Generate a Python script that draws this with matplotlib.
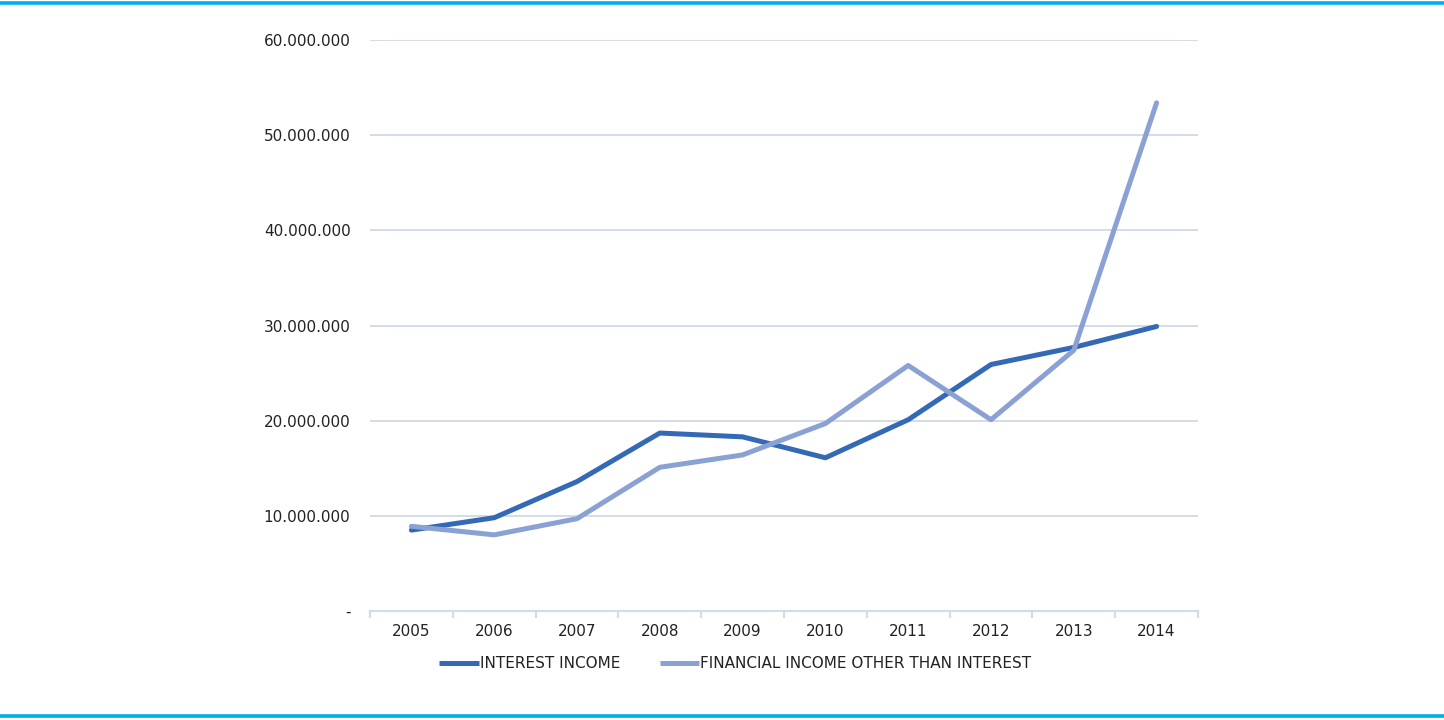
import matplotlib
matplotlib.use("Agg")
import matplotlib.pyplot as plt
from matplotlib.lines import Line2D

plt.rcParams["font.family"] = ["DejaVu Sans"]

years = ["2005", "2006", "2007", "2008", "2009", "2010", "2011", "2012", "2013", "2014"]
interest_income = [8.5e6, 9.8e6, 13.6e6, 18.7e6, 18.3e6, 16.1e6, 20.1e6, 25.9e6, 27.7e6, 29.9e6]
other_income = [8.9e6, 8.0e6, 9.7e6, 15.1e6, 16.4e6, 19.7e6, 25.8e6, 20.1e6, 27.4e6, 53.4e6]
series_names = ["INTEREST INCOME", "FINANCIAL INCOME OTHER THAN INTEREST"]
y_ticks = [0, 10e6, 20e6, 30e6, 40e6, 50e6, 60e6]

def fmt(v):
    if v == 0:
        return "-"
    return f"{int(v):,}".replace(",", ".")

fig = plt.figure(figsize=(14.44, 7.2), dpi=100)
ax = fig.add_axes([370/1444, 1-611/720, 828/1444, 571/720])

x = list(range(len(years)))
c1 = "#3469b5"
c2 = "#8aa1d3"
ax.plot(x, interest_income, color=c1, lw=3.6, solid_capstyle="round", solid_joinstyle="round", label=series_names[0], zorder=3)
ax.plot(x, other_income, color=c2, lw=3.6, solid_capstyle="round", solid_joinstyle="round", label=series_names[1], zorder=3)

ax.set_xlim(-0.5, len(years) - 0.5)
ax.set_ylim(0, 60e6)
ax.set_yticks(y_ticks)
ax.set_yticklabels([fmt(v) for v in y_ticks])
ax.set_xticks(x)
ax.set_xticklabels(years)
ax.set_xticks([i - 0.5 for i in range(len(years) + 1)], minor=True)

grid_c = "#d3dde6"
for v in y_ticks[1:]:
    ax.axhline(v, color=grid_c, lw=1.4, zorder=1)

for s in ["top", "right", "left"]:
    ax.spines[s].set_visible(False)
ax.spines["bottom"].set_color(grid_c)
ax.spines["bottom"].set_linewidth(1.6)

ax.tick_params(axis="y", length=0, pad=14, labelsize=11, labelcolor="#222222")
ax.tick_params(axis="x", which="major", length=0, pad=9, labelsize=11, labelcolor="#222222")
ax.tick_params(axis="x", which="minor", length=5, width=1.6, color=grid_c)

leg = ax.legend(loc="upper center", bbox_to_anchor=(0.441, -0.055), ncol=2, frameon=False,
                fontsize=11, handlelength=2.6, handletextpad=0.05, columnspacing=2.6,
                labelcolor="#222222")
for h in leg.get_lines():
    h.set_solid_capstyle("butt")

fig.add_artist(Line2D([0, 1], [1 - 3/720, 1 - 3/720], color="#00aeef", lw=2.6, transform=fig.transFigure))
fig.add_artist(Line2D([0, 1], [1 - 716/720, 1 - 716/720], color="#00aeef", lw=2.6, transform=fig.transFigure))

fig.savefig("out.png", dpi=100)
